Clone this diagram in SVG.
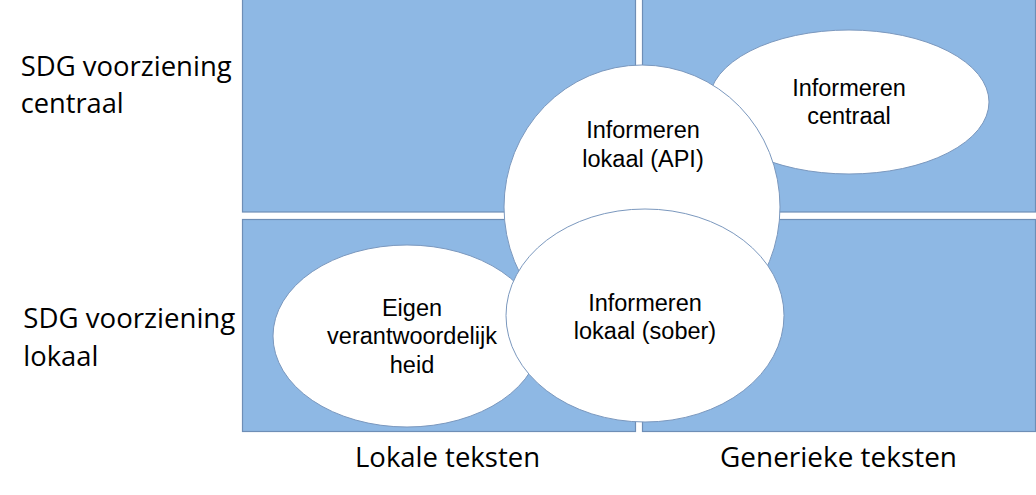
<svg xmlns="http://www.w3.org/2000/svg" width="1036" height="495" viewBox="0 0 1036 495">
  <style>
    .cell { fill: #8EB8E4; stroke: #6E8EB6; stroke-width: 1.2; }
    .oval { fill: #FFFFFF; stroke: #7B98BE; stroke-width: 1; }
    .otxt { font-family: "Liberation Sans", Arial, sans-serif; font-size: 23.5px; fill: #000; text-anchor: middle; }
    .ltxt { font-family: "Open Sans", "Noto Sans", sans-serif; font-size: 27px; fill: #000; }
  </style>
  <rect width="1036" height="495" fill="#FFFFFF"/>
  <g id="grid">
    <rect id="cell-tl" class="cell" x="242.5" y="-1" width="393" height="213"/>
    <rect id="cell-tr" class="cell" x="642.5" y="-1" width="393" height="213"/>
    <rect id="cell-bl" class="cell" x="242.5" y="219.5" width="393" height="212"/>
    <rect id="cell-br" class="cell" x="642.5" y="219.5" width="393" height="212"/>
  </g>
  <g id="axis-labels">
    <text class="ltxt" x="20.7" y="75.7" textLength="211" lengthAdjust="spacingAndGlyphs">SDG voorziening</text>
    <text class="ltxt" x="20.7" y="113.3" textLength="103" lengthAdjust="spacingAndGlyphs">centraal</text>
    <text class="ltxt" x="23.3" y="328.3" textLength="212" lengthAdjust="spacingAndGlyphs">SDG voorziening</text>
    <text class="ltxt" x="23.3" y="366" textLength="75" lengthAdjust="spacingAndGlyphs">lokaal</text>
    <text class="ltxt" x="355" y="466.7" textLength="185" lengthAdjust="spacingAndGlyphs">Lokale teksten</text>
    <text class="ltxt" x="720" y="466.7" textLength="237" lengthAdjust="spacingAndGlyphs">Generieke teksten</text>
  </g>
  <g id="connectors"></g>
  <g id="node-informeren-centraal">
    <ellipse class="oval" cx="849" cy="102" rx="140" ry="72"/>
    <text class="otxt" x="849" y="95.7">Informeren</text>
    <text class="otxt" x="849" y="124.2">centraal</text>
  </g>
  <g id="node-informeren-api">
    <ellipse class="oval" cx="642" cy="207" rx="138" ry="142"/>
    <text class="otxt" x="643" y="138.3">Informeren</text>
    <text class="otxt" x="643" y="166.7">lokaal (API)</text>
  </g>
  <g id="node-eigen">
    <ellipse class="oval" cx="407" cy="336" rx="134" ry="91"/>
    <text class="otxt" x="412" y="315.7">Eigen</text>
    <text class="otxt" x="412" y="344.2">verantwoordelijk</text>
    <text class="otxt" x="412" y="372.7">heid</text>
  </g>
  <g id="node-informeren-sober">
    <ellipse class="oval" cx="645" cy="315.5" rx="139" ry="106.5"/>
    <text class="otxt" x="645" y="310.7">Informeren</text>
    <text class="otxt" x="645" y="339.2">lokaal (sober)</text>
  </g>
</svg>
